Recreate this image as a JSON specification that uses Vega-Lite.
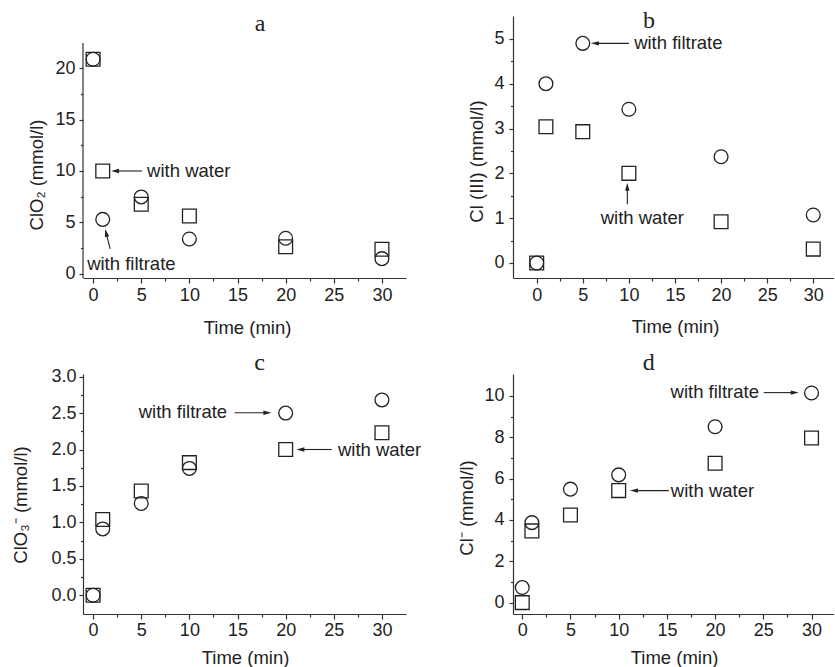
{
  "$schema": "https://vega.github.io/schema/vega-lite/v6.json",
  "padding": {"left": 11, "top": 8, "right": 0, "bottom": 0},
  "background": "white",
  "config": {
    "font": "Liberation Sans",
    "view": {"stroke": null},
    "axis": {
      "grid": false,
      "domainColor": "#333",
      "domainWidth": 1.2,
      "tickColor": "#333",
      "tickWidth": 1.2,
      "labelColor": "#222",
      "labelFontSize": 18,
      "labelFont": "Liberation Sans",
      "titleFont": "Liberation Sans",
      "titleColor": "#222",
      "titleFontSize": 18.5,
      "titleFontWeight": "normal",
      "labelOverlap": false,
      "labelFlush": false,
      "titleBaseline": "alphabetic",
      "titleAlign": "center"
    }
  },
  "datasets": {
    "points": [
      {"panel": "a", "solution": "with water", "time": 0, "value": 20.85},
      {"panel": "a", "solution": "with water", "time": 1, "value": 10.0},
      {"panel": "a", "solution": "with water", "time": 5, "value": 6.77},
      {"panel": "a", "solution": "with water", "time": 10, "value": 5.63},
      {"panel": "a", "solution": "with water", "time": 20, "value": 2.65},
      {"panel": "a", "solution": "with water", "time": 30, "value": 2.4},
      {"panel": "a", "solution": "with filtrate", "time": 0, "value": 20.85},
      {"panel": "a", "solution": "with filtrate", "time": 1, "value": 5.3},
      {"panel": "a", "solution": "with filtrate", "time": 5, "value": 7.48},
      {"panel": "a", "solution": "with filtrate", "time": 10, "value": 3.4},
      {"panel": "a", "solution": "with filtrate", "time": 20, "value": 3.47},
      {"panel": "a", "solution": "with filtrate", "time": 30, "value": 1.49},
      {"panel": "b", "solution": "with water", "time": 0, "value": 0},
      {"panel": "b", "solution": "with water", "time": 1, "value": 3.04},
      {"panel": "b", "solution": "with water", "time": 5, "value": 2.93},
      {"panel": "b", "solution": "with water", "time": 10, "value": 2.0},
      {"panel": "b", "solution": "with water", "time": 20, "value": 0.92},
      {"panel": "b", "solution": "with water", "time": 30, "value": 0.31},
      {"panel": "b", "solution": "with filtrate", "time": 0, "value": 0},
      {"panel": "b", "solution": "with filtrate", "time": 1, "value": 4.0},
      {"panel": "b", "solution": "with filtrate", "time": 5, "value": 4.9},
      {"panel": "b", "solution": "with filtrate", "time": 10, "value": 3.43},
      {"panel": "b", "solution": "with filtrate", "time": 20, "value": 2.37},
      {"panel": "b", "solution": "with filtrate", "time": 30, "value": 1.07},
      {"panel": "c", "solution": "with water", "time": 0, "value": 0},
      {"panel": "c", "solution": "with water", "time": 1, "value": 1.04},
      {"panel": "c", "solution": "with water", "time": 5, "value": 1.43},
      {"panel": "c", "solution": "with water", "time": 10, "value": 1.82},
      {"panel": "c", "solution": "with water", "time": 20, "value": 2.0},
      {"panel": "c", "solution": "with water", "time": 30, "value": 2.23},
      {"panel": "c", "solution": "with filtrate", "time": 0, "value": 0},
      {"panel": "c", "solution": "with filtrate", "time": 1, "value": 0.91},
      {"panel": "c", "solution": "with filtrate", "time": 5, "value": 1.26},
      {"panel": "c", "solution": "with filtrate", "time": 10, "value": 1.74},
      {"panel": "c", "solution": "with filtrate", "time": 20, "value": 2.5},
      {"panel": "c", "solution": "with filtrate", "time": 30, "value": 2.68},
      {"panel": "d", "solution": "with water", "time": 0, "value": 0},
      {"panel": "d", "solution": "with water", "time": 1, "value": 3.47},
      {"panel": "d", "solution": "with water", "time": 5, "value": 4.24},
      {"panel": "d", "solution": "with water", "time": 10, "value": 5.42},
      {"panel": "d", "solution": "with water", "time": 20, "value": 6.74},
      {"panel": "d", "solution": "with water", "time": 30, "value": 7.96},
      {"panel": "d", "solution": "with filtrate", "time": 0, "value": 0.73},
      {"panel": "d", "solution": "with filtrate", "time": 1, "value": 3.87},
      {"panel": "d", "solution": "with filtrate", "time": 5, "value": 5.49},
      {"panel": "d", "solution": "with filtrate", "time": 10, "value": 6.18},
      {"panel": "d", "solution": "with filtrate", "time": 20, "value": 8.51},
      {"panel": "d", "solution": "with filtrate", "time": 30, "value": 10.14}
    ],
    "axisline": [
      {"panel": "a", "time": -1.05, "value": -0.39, "value2": 22.43}
    ],
    "arrows": [
      {"panel": "a", "time": 5.09, "value": 10.0, "time2": 2.28, "value2": 10.0},
      {"panel": "a", "time": 1.77, "value": 2.43, "time2": 1.35, "value2": 3.99},
      {"panel": "b", "time": 10.0, "value": 4.9, "time2": 6.32, "value2": 4.9},
      {"panel": "b", "time": 9.83, "value": 1.31, "time2": 9.83, "value2": 1.7},
      {"panel": "c", "time": 14.7, "value": 2.505, "time2": 18.1, "value2": 2.505},
      {"panel": "c", "time": 24.78, "value": 2.0, "time2": 21.53, "value2": 2.0},
      {"panel": "d", "time": 25.05, "value": 10.16, "time2": 28.26, "value2": 10.16},
      {"panel": "d", "time": 15.2, "value": 5.42, "time2": 11.58, "value2": 5.42}
    ],
    "heads": [
      {"panel": "a", "dir": "left", "time": 2.28, "value": 10.0},
      {"panel": "a", "dir": "upleft", "time": 1.35, "value": 3.99},
      {"panel": "b", "dir": "left", "time": 6.32, "value": 4.9},
      {"panel": "b", "dir": "up", "time": 9.83, "value": 1.7},
      {"panel": "c", "dir": "right", "time": 18.1, "value": 2.505},
      {"panel": "c", "dir": "left", "time": 21.53, "value": 2.0},
      {"panel": "d", "dir": "right", "time": 28.26, "value": 10.16},
      {"panel": "d", "dir": "left", "time": 11.58, "value": 5.42}
    ],
    "notes": [
      {"panel": "a", "time": 5.61, "value": 10.0, "text": "with water"},
      {"panel": "a", "time": -0.62, "value": 0.97, "text": "with filtrate"},
      {"panel": "b", "time": 10.57, "value": 4.9, "text": "with filtrate"},
      {"panel": "b", "time": 6.94, "value": 1.0, "text": "with water"},
      {"panel": "c", "time": 4.74, "value": 2.52, "text": "with filtrate"},
      {"panel": "c", "time": 25.43, "value": 2.0, "text": "with water"},
      {"panel": "d", "time": 15.38, "value": 10.17, "text": "with filtrate"},
      {"panel": "d", "time": 15.41, "value": 5.42, "text": "with water"}
    ],
    "labels": [
      {"panel": "a", "time": 17.34, "value": 23.6, "text": "a"},
      {"panel": "b", "time": 12.19, "value": 5.25, "text": "b"},
      {"panel": "c", "time": 17.3, "value": 3.09, "text": "c"},
      {"panel": "d", "time": 13.13, "value": 11.24, "text": "d"}
    ]
  },
  "columns": 2,
  "bounds": "flush",
  "spacing": {"row": 96, "column": 107},
  "concat": [
    {
      "width": 323,
      "height": 262,
      "encoding": {
        "x": {"field": "time", "type": "quantitative",
          "scale": {"domain": [-1.05, 32.5], "nice": false, "zero": false},
          "axis": {"title": "Time (min)", "format": ".0f", "values": [0, 2.5, 5, 7.5, 10, 12.5, 15, 17.5, 20, 22.5, 25, 27.5, 30],
            "labelExpr": "datum.value % 5 === 0 ? datum.label : ''",
            "tickSize": {"condition": {"test": "datum.value % 5 === 0", "value": 5}, "value": 3},
            "labelPadding": 3, "titleX": 164, "titleY": 55}},
        "y": {"field": "value", "type": "quantitative",
          "scale": {"domain": [-0.39, 25.05], "nice": false, "zero": false},
          "axis": {"title": "ClO₂ (mmol/l)", "format": ".0f", "domain": false, "values": [0, 2.5, 5, 7.5, 10, 12.5, 15, 17.5, 20],
            "labelExpr": "datum.value % 5 === 0 ? datum.label : ''",
            "tickSize": {"condition": {"test": "datum.value % 5 === 0", "value": 4}, "value": 2.5},
            "labelPadding": 4, "titleX": -40.5, "titleY": 158.5}}
      },
      "layer": [
        {"data": {"name": "axisline"}, "transform": [{"filter": "datum.panel === 'a'"}],
          "mark": {"type": "rule", "color": "#333", "strokeWidth": 1.2},
          "encoding": {"y2": {"field": "value2"}}},
        {"data": {"name": "arrows"}, "transform": [{"filter": "datum.panel === 'a'"}],
          "mark": {"type": "rule", "color": "#222", "strokeWidth": 1.1},
          "encoding": {"x2": {"field": "time2"}, "y2": {"field": "value2"}}},
        {"data": {"name": "heads"}, "transform": [{"filter": "datum.panel === 'a' && datum.dir === 'left'"}],
          "mark": {"type": "point", "shape": "M0,-1L0.55,1L-0.55,1Z", "angle": 270, "filled": true, "color": "#222", "opacity": 1, "size": 64}},
        {"data": {"name": "heads"}, "transform": [{"filter": "datum.panel === 'a' && datum.dir === 'upleft'"}],
          "mark": {"type": "point", "shape": "M0,-1L0.55,1L-0.55,1Z", "angle": 346, "filled": true, "color": "#222", "opacity": 1, "size": 64}},
        {"data": {"name": "notes"}, "transform": [{"filter": "datum.panel === 'a'"}],
          "mark": {"type": "text", "align": "left", "baseline": "middle", "fontSize": 18.5, "color": "#222", "font": "Liberation Sans"},
          "encoding": {"text": {"field": "text"}}},
        {"data": {"name": "labels"}, "transform": [{"filter": "datum.panel === 'a'"}],
          "mark": {"type": "text", "align": "center", "baseline": "alphabetic", "fontSize": 24, "color": "#222", "font": "Liberation Serif"},
          "encoding": {"text": {"field": "text"}}},
        {"data": {"name": "points"}, "transform": [{"filter": "datum.panel === 'a'"}],
          "mark": {"type": "point", "filled": false, "size": 190, "strokeWidth": 1.3, "color": "#222", "opacity": 1},
          "encoding": {"shape": {"field": "solution", "type": "nominal", "scale": {"domain": ["with water", "with filtrate"], "range": ["square", "circle"]}, "legend": null}}}
      ]
    },
    {
      "width": 321,
      "height": 262,
      "encoding": {
        "x": {"field": "time", "type": "quantitative",
          "scale": {"domain": [-2.57, 32.25], "nice": false, "zero": false},
          "axis": {"title": "Time (min)", "format": ".0f", "values": [0, 2.5, 5, 7.5, 10, 12.5, 15, 17.5, 20, 22.5, 25, 27.5, 30],
            "labelExpr": "datum.value % 5 === 0 ? datum.label : ''",
            "tickSize": {"condition": {"test": "datum.value % 5 === 0", "value": 5}, "value": 3},
            "labelPadding": 3, "titleX": 162, "titleY": 54}},
        "y": {"field": "value", "type": "quantitative",
          "scale": {"domain": [-0.335, 5.51], "nice": false, "zero": false},
          "axis": {"title": "Cl (III) (mmol/l)", "format": ".0f", "values": [0, 0.5, 1, 1.5, 2, 2.5, 3, 3.5, 4, 4.5, 5],
            "labelExpr": "datum.value % 1 === 0 ? datum.label : ''",
            "tickSize": {"condition": {"test": "datum.value % 1 === 0", "value": 4}, "value": 2.5},
            "labelPadding": 5, "titleX": -31, "titleY": 145}}
      },
      "layer": [
        {"data": {"name": "arrows"}, "transform": [{"filter": "datum.panel === 'b'"}],
          "mark": {"type": "rule", "color": "#222", "strokeWidth": 1.1},
          "encoding": {"x2": {"field": "time2"}, "y2": {"field": "value2"}}},
        {"data": {"name": "heads"}, "transform": [{"filter": "datum.panel === 'b' && datum.dir === 'left'"}],
          "mark": {"type": "point", "shape": "M0,-1L0.55,1L-0.55,1Z", "angle": 270, "filled": true, "color": "#222", "opacity": 1, "size": 64}},
        {"data": {"name": "heads"}, "transform": [{"filter": "datum.panel === 'b' && datum.dir === 'up'"}],
          "mark": {"type": "point", "shape": "M0,-1L0.55,1L-0.55,1Z", "angle": 0, "filled": true, "color": "#222", "opacity": 1, "size": 64}},
        {"data": {"name": "notes"}, "transform": [{"filter": "datum.panel === 'b'"}],
          "mark": {"type": "text", "align": "left", "baseline": "middle", "fontSize": 18.5, "color": "#222", "font": "Liberation Sans"},
          "encoding": {"text": {"field": "text"}}},
        {"data": {"name": "labels"}, "transform": [{"filter": "datum.panel === 'b'"}],
          "mark": {"type": "text", "align": "center", "baseline": "alphabetic", "fontSize": 24, "color": "#222", "font": "Liberation Serif"},
          "encoding": {"text": {"field": "text"}}},
        {"data": {"name": "points"}, "transform": [{"filter": "datum.panel === 'b'"}],
          "mark": {"type": "point", "filled": false, "size": 190, "strokeWidth": 1.3, "color": "#222", "opacity": 1},
          "encoding": {"shape": {"field": "solution", "type": "nominal", "scale": {"domain": ["with water", "with filtrate"], "range": ["square", "circle"]}, "legend": null}}}
      ]
    },
    {
      "width": 323,
      "height": 240,
      "encoding": {
        "x": {"field": "time", "type": "quantitative",
          "scale": {"domain": [-1.05, 32.5], "nice": false, "zero": false},
          "axis": {"title": "Time (min)", "format": ".0f", "values": [0, 2.5, 5, 7.5, 10, 12.5, 15, 17.5, 20, 22.5, 25, 27.5, 30],
            "labelExpr": "datum.value % 5 === 0 ? datum.label : ''",
            "tickSize": {"condition": {"test": "datum.value % 5 === 0", "value": 5}, "value": 3},
            "labelPadding": 2, "titleX": 162, "titleY": 49}},
        "y": {"field": "value", "type": "quantitative",
          "scale": {"domain": [-0.257, 3.036], "nice": false, "zero": false},
          "axis": {"title": "ClO₃⁻ (mmol/l)", "format": ".1f", "values": [0, 0.25, 0.5, 0.75, 1, 1.25, 1.5, 1.75, 2, 2.25, 2.5, 2.75, 3],
            "labelExpr": "abs(datum.value * 2 - round(datum.value * 2)) < 0.001 ? datum.label : ''",
            "tickSize": {"condition": {"test": "abs(datum.value * 2 - round(datum.value * 2)) < 0.001", "value": 4}, "value": 2.5},
            "labelPadding": 3, "titleX": -56.5, "titleY": 130.5}}
      },
      "layer": [
        {"data": {"name": "arrows"}, "transform": [{"filter": "datum.panel === 'c'"}],
          "mark": {"type": "rule", "color": "#222", "strokeWidth": 1.1},
          "encoding": {"x2": {"field": "time2"}, "y2": {"field": "value2"}}},
        {"data": {"name": "heads"}, "transform": [{"filter": "datum.panel === 'c' && datum.dir === 'right'"}],
          "mark": {"type": "point", "shape": "M0,-1L0.55,1L-0.55,1Z", "angle": 90, "filled": true, "color": "#222", "opacity": 1, "size": 64}},
        {"data": {"name": "heads"}, "transform": [{"filter": "datum.panel === 'c' && datum.dir === 'left'"}],
          "mark": {"type": "point", "shape": "M0,-1L0.55,1L-0.55,1Z", "angle": 270, "filled": true, "color": "#222", "opacity": 1, "size": 64}},
        {"data": {"name": "notes"}, "transform": [{"filter": "datum.panel === 'c'"}],
          "mark": {"type": "text", "align": "left", "baseline": "middle", "fontSize": 18.5, "color": "#222", "font": "Liberation Sans"},
          "encoding": {"text": {"field": "text"}}},
        {"data": {"name": "labels"}, "transform": [{"filter": "datum.panel === 'c'"}],
          "mark": {"type": "text", "align": "center", "baseline": "alphabetic", "fontSize": 24, "color": "#222", "font": "Liberation Serif"},
          "encoding": {"text": {"field": "text"}}},
        {"data": {"name": "points"}, "transform": [{"filter": "datum.panel === 'c'"}],
          "mark": {"type": "point", "filled": false, "size": 190, "strokeWidth": 1.3, "color": "#222", "opacity": 1},
          "encoding": {"shape": {"field": "solution", "type": "nominal", "scale": {"domain": ["with water", "with filtrate"], "range": ["square", "circle"]}, "legend": null}}}
      ]
    },
    {
      "width": 321,
      "height": 240,
      "encoding": {
        "x": {"field": "time", "type": "quantitative",
          "scale": {"domain": [-0.96, 32.33], "nice": false, "zero": false},
          "axis": {"title": "Time (min)", "format": ".0f", "values": [0, 2.5, 5, 7.5, 10, 12.5, 15, 17.5, 20, 22.5, 25, 27.5, 30],
            "labelExpr": "datum.value % 5 === 0 ? datum.label : ''",
            "tickSize": {"condition": {"test": "datum.value % 5 === 0", "value": 5}, "value": 3},
            "labelPadding": 2, "titleX": 161, "titleY": 49}},
        "y": {"field": "value", "type": "quantitative",
          "scale": {"domain": [-0.55, 11.06], "nice": false, "zero": false},
          "axis": {"title": "Cl⁻ (mmol/l)", "format": ".0f", "values": [0, 1, 2, 3, 4, 5, 6, 7, 8, 9, 10],
            "labelExpr": "datum.value % 2 === 0 ? datum.label : ''",
            "tickSize": {"condition": {"test": "datum.value % 2 === 0", "value": 4}, "value": 2.5},
            "labelPadding": 5, "titleX": -40.5, "titleY": 133.5}}
      },
      "layer": [
        {"data": {"name": "arrows"}, "transform": [{"filter": "datum.panel === 'd'"}],
          "mark": {"type": "rule", "color": "#222", "strokeWidth": 1.1},
          "encoding": {"x2": {"field": "time2"}, "y2": {"field": "value2"}}},
        {"data": {"name": "heads"}, "transform": [{"filter": "datum.panel === 'd' && datum.dir === 'right'"}],
          "mark": {"type": "point", "shape": "M0,-1L0.55,1L-0.55,1Z", "angle": 90, "filled": true, "color": "#222", "opacity": 1, "size": 64}},
        {"data": {"name": "heads"}, "transform": [{"filter": "datum.panel === 'd' && datum.dir === 'left'"}],
          "mark": {"type": "point", "shape": "M0,-1L0.55,1L-0.55,1Z", "angle": 270, "filled": true, "color": "#222", "opacity": 1, "size": 64}},
        {"data": {"name": "notes"}, "transform": [{"filter": "datum.panel === 'd'"}],
          "mark": {"type": "text", "align": "left", "baseline": "middle", "fontSize": 18.5, "color": "#222", "font": "Liberation Sans"},
          "encoding": {"text": {"field": "text"}}},
        {"data": {"name": "labels"}, "transform": [{"filter": "datum.panel === 'd'"}],
          "mark": {"type": "text", "align": "center", "baseline": "alphabetic", "fontSize": 24, "color": "#222", "font": "Liberation Serif"},
          "encoding": {"text": {"field": "text"}}},
        {"data": {"name": "points"}, "transform": [{"filter": "datum.panel === 'd'"}],
          "mark": {"type": "point", "filled": false, "size": 190, "strokeWidth": 1.3, "color": "#222", "opacity": 1},
          "encoding": {"shape": {"field": "solution", "type": "nominal", "scale": {"domain": ["with water", "with filtrate"], "range": ["square", "circle"]}, "legend": null}}}
      ]
    }
  ]
}
